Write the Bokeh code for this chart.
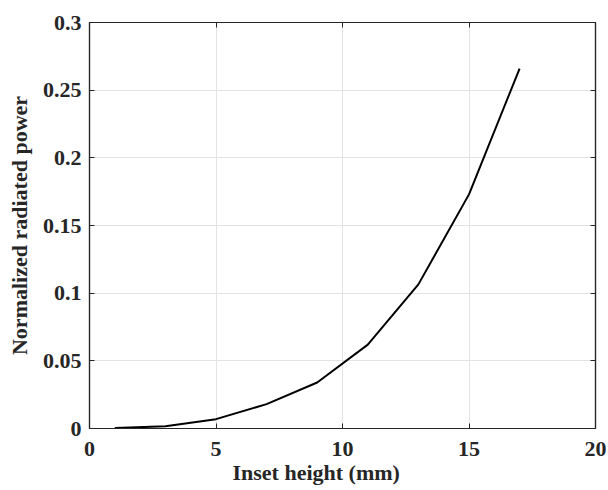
from bokeh.plotting import figure
from bokeh.models import LinearAxis, Range1d, FixedTicker, Title
from bokeh.embed import file_html
from bokeh.resources import INLINE

inset_height = [1, 3, 5, 7, 9, 11, 13, 15, 17]
radiated_power = [0.0003, 0.0017, 0.0069, 0.018, 0.034, 0.062, 0.1065, 0.173, 0.266]
x_ticks = [0, 5, 10, 15, 20]
y_ticks = [0, 0.05, 0.1, 0.15, 0.2, 0.25, 0.3]
y_tick_labels = {0: "0", 0.05: "0.05", 0.1: "0.1", 0.15: "0.15", 0.2: "0.2", 0.25: "0.25", 0.3: "0.3"}
x_label = "Inset height (mm)"
y_label = "Normalized radiated power"

FONT = "Liberation Serif"
AX = "#262626"

p = figure(width=606, height=490, output_backend="svg", toolbar_location=None,
           x_range=Range1d(0, 20), y_range=Range1d(0, 0.3),
           min_border_left=89, min_border_right=11, min_border_top=22, min_border_bottom=62)
p.outline_line_color = AX
p.outline_line_width = 1.2

p.line(inset_height, radiated_power, line_color="black", line_width=2)

for ax in (p.xaxis[0], p.yaxis[0]):
    ax.major_label_text_font = FONT
    ax.major_label_text_font_style = "bold"
    ax.major_label_text_font_size = "22px"
    ax.major_label_text_color = "#262626"
    ax.axis_label_text_font = FONT
    ax.axis_label_text_font_style = "bold"
    ax.axis_label_text_font_size = "22px"
    ax.axis_label_text_color = "#262626"
    ax.axis_line_color = AX
    ax.axis_line_width = 1.2
    ax.major_tick_in = 5
    ax.major_tick_out = 0
    ax.major_tick_line_color = AX
    ax.minor_tick_line_color = None

p.xaxis[0].ticker = FixedTicker(ticks=x_ticks)
p.yaxis[0].ticker = FixedTicker(ticks=y_ticks)
p.yaxis[0].major_label_overrides = y_tick_labels
p.yaxis[0].axis_label = y_label
p.xaxis[0].major_label_standoff = 13
p.yaxis[0].major_label_standoff = 8
p.yaxis[0].axis_label_standoff = 8

xt = Title(text=x_label, align="left", offset=143, standoff=-2,
           text_font=FONT, text_font_style="bold", text_font_size="22px",
           text_color="#262626")
p.add_layout(xt, "below")

right = LinearAxis(ticker=FixedTicker(ticks=y_ticks), major_label_text_font_size="0px",
                   major_label_text_color=None,
                   major_tick_in=5, major_tick_out=0, major_tick_line_color=AX,
                   minor_tick_line_color=None, axis_line_color=AX, axis_line_width=1.2,
                   major_label_standoff=0)
top = LinearAxis(ticker=FixedTicker(ticks=x_ticks), major_label_text_font_size="0px",
                 major_label_text_color=None,
                 major_tick_in=5, major_tick_out=0, major_tick_line_color=AX,
                 minor_tick_line_color=None, axis_line_color=AX, axis_line_width=1.2,
                 major_label_standoff=0)
p.add_layout(right, "right")
p.add_layout(top, "above")

p.xgrid.ticker = FixedTicker(ticks=x_ticks)
p.ygrid.ticker = FixedTicker(ticks=y_ticks)
p.grid.grid_line_color = "#e3e3e3"
p.grid.grid_line_width = 1

open("out.html", "w").write(file_html(p, INLINE))
